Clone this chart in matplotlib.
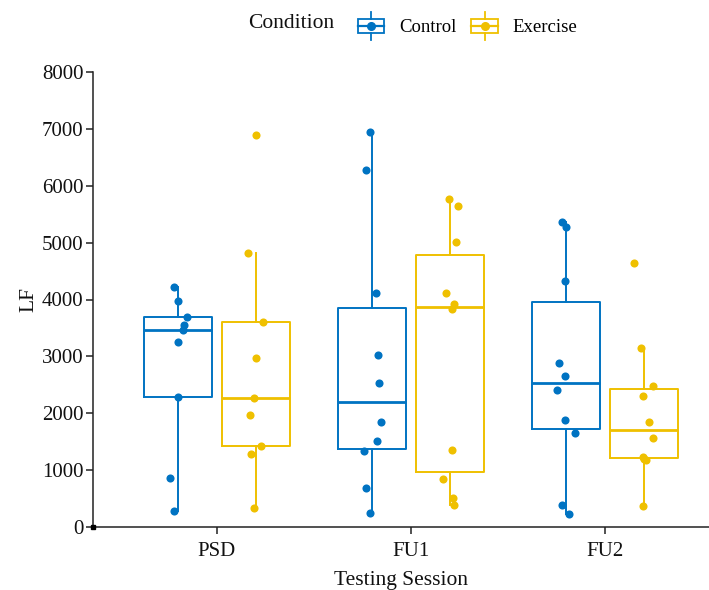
import numpy as np
import matplotlib
matplotlib.use("Agg")
import matplotlib.pyplot as plt
from matplotlib.legend_handler import HandlerBase
from matplotlib.patches import Rectangle, Patch
from matplotlib.lines import Line2D

plt.rcParams['font.family'] = ['Liberation Serif', 'DejaVu Serif']

# data
sessions = ['PSD', 'FU1', 'FU2']
conditions = ['Control', 'Exercise']
colors = ['#0073C2', '#EFC000']

control_psd = [4220, 3970, 3690, 3550, 3460, 3250, 2280, 870, 280]
control_fu1 = [6940, 6270, 4120, 3020, 2530, 1850, 1510, 1330, 690, 250]
control_fu2 = [5370, 5280, 4320, 2890, 2660, 2410, 1890, 1660, 390, 230]
exercise_psd = [6900, 4810, 3610, 2980, 2260, 1970, 1430, 1280, 330]
exercise_fu1 = [5760, 5650, 5010, 4120, 3920, 3830, 1350, 840, 510, 380]
exercise_fu2 = [4650, 3150, 2480, 2300, 1840, 1570, 1230, 1200, 1180, 370]

# horizontal jitter of the dots (fraction of a category), as seen in the picture
jit_control_psd = [-0.024, -0.002, 0.045, 0.029, 0.027, 0.0, 0.0, -0.040, -0.024]
jit_control_fu1 = [-0.009, -0.031, 0.022, 0.029, 0.036, 0.043, 0.024, -0.040, -0.031, -0.009]
jit_control_fu2 = [-0.021, 0.0, -0.007, -0.038, -0.007, -0.045, -0.007, 0.046, -0.024, 0.015]
jit_exercise_psd = [0.0, -0.039, 0.036, 0.0, -0.008, -0.031, 0.028, -0.026, -0.008]
jit_exercise_fu1 = [-0.004, 0.041, 0.032, -0.019, 0.024, 0.010, 0.010, -0.035, 0.015, 0.024]
jit_exercise_fu2 = [-0.050, -0.012, 0.048, -0.005, 0.026, 0.048, -0.005, 0.0, 0.010, -0.005]

groups = {
    'Control': [control_psd, control_fu1, control_fu2],
    'Exercise': [exercise_psd, exercise_fu1, exercise_fu2],
}
jitters = {
    'Control': [jit_control_psd, jit_control_fu1, jit_control_fu2],
    'Exercise': [jit_exercise_psd, jit_exercise_fu1, jit_exercise_fu2],
}


class BoxKey(HandlerBase):
    # ggplot style boxplot legend key with a dot in the middle
    def __init__(self, color):
        super().__init__()
        self.color = color

    def create_artists(self, legend, orig_handle, xdescent, ydescent,
                       width, height, fontsize, trans):
        cx = -xdescent + width / 2
        cy = -ydescent + height / 2
        bw = width * 0.95
        bh = height * 0.66
        rect = Rectangle((cx - bw / 2, cy - bh / 2), bw, bh, fill=False,
                         edgecolor=self.color, lw=1.3, transform=trans)
        top = Line2D([cx, cx], [cy + bh / 2, cy + height / 2 + 2], color=self.color,
                     lw=1.3, transform=trans)
        bot = Line2D([cx, cx], [cy - bh / 2, cy - height / 2 - 2], color=self.color,
                     lw=1.3, transform=trans)
        med = Line2D([cx - bw / 2, cx + bw / 2], [cy, cy], color=self.color,
                     lw=1.6, transform=trans)
        dot = Line2D([cx], [cy], marker='o', ms=5.5, color=self.color,
                     lw=0, transform=trans)
        return [rect, top, bot, med, dot]


fig = plt.figure(figsize=(7.09, 5.90), dpi=100)
ax = fig.add_axes([93 / 709, 63 / 590, 616 / 709, 455 / 590])

x = np.arange(1, len(sessions) + 1)
offsets = {'Control': -0.2, 'Exercise': 0.2}

for cond, col in zip(conditions, colors):
    for i, vals in enumerate(groups[cond]):
        pos = x[i] + offsets[cond]
        ax.boxplot(vals, positions=[pos], widths=0.35, showfliers=False,
                   showcaps=False, whis=1.5, manage_ticks=False,
                   boxprops=dict(color=col, lw=1.4),
                   whiskerprops=dict(color=col, lw=1.4),
                   medianprops=dict(color=col, lw=2.0))
        ax.scatter(pos + np.array(jitters[cond][i]), vals, s=34, color=col,
                   linewidths=0, zorder=3)

ax.set_xlim(0.361, 3.536)
ax.set_ylim(0, 8000)
ax.set_xticks(x)
ax.set_xticklabels(sessions)
ax.set_yticks(np.arange(0, 8001, 1000))

for s in ['top', 'right']:
    ax.spines[s].set_visible(False)
for s in ['left', 'bottom']:
    ax.spines[s].set_linewidth(1.1)
    ax.spines[s].set_color('#222222')
ax.tick_params(direction='out', length=5, width=1.1, color='#222222',
               labelsize=15, labelcolor='#111111')
ax.tick_params(axis='x', pad=6)
ax.tick_params(axis='y', pad=2)

# little square where the two axis lines meet
ax.plot([ax.get_xlim()[0]], [0], marker='s', ms=3.5, color='black',
        clip_on=False, zorder=5)

ax.set_xlabel('Testing Session', fontsize=15.5, color='#111111', labelpad=7)
ax.set_ylabel('LF', fontsize=15.5, color='#111111', labelpad=2)

# legend on top
fig.text(248 / 709, 1 - 24 / 590, 'Condition', ha='left', va='center',
         fontsize=15.5, color='#111111')
h_ctrl = Patch()
h_ex = Patch()
fig.legend([h_ctrl, h_ex], conditions, loc='center left',
           bbox_to_anchor=(357 / 709, 1 - 26 / 590), ncol=2, frameon=False,
           fontsize=13.5, handlelength=1.5, handleheight=1.4,
           handletextpad=0.75, columnspacing=0.75, borderpad=0,
           borderaxespad=0,
           handler_map={h_ctrl: BoxKey(colors[0]), h_ex: BoxKey(colors[1])})

fig.savefig('out.png', dpi=100)
